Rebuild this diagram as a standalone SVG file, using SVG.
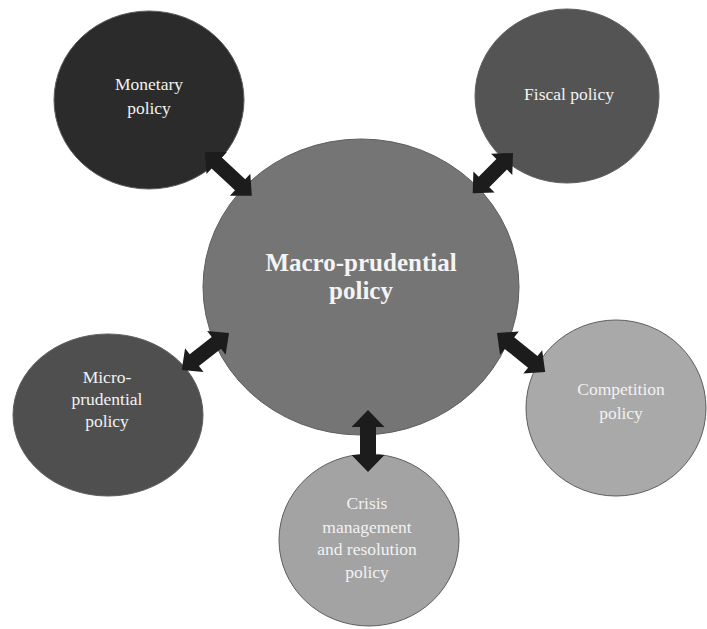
<svg xmlns="http://www.w3.org/2000/svg" width="707" height="629" viewBox="0 0 707 629">
<style>
.node{stroke:#5e5e5e;stroke-width:1}
.lbl{font-family:"Liberation Serif","Times New Roman",serif;font-size:17.5px;fill:#f2f2f2;text-anchor:middle}
.big{font-family:"Liberation Serif","Times New Roman",serif;font-size:25px;font-weight:bold;fill:#f4f4f4;text-anchor:middle}
.arr{fill:#1c1c1c}
</style>
<rect width="707" height="629" fill="#ffffff"/>
<g id="monetary">
<ellipse class="node" cx="149" cy="100" rx="95" ry="89" fill="#2b2b2b"/>
<text class="lbl" x="149" y="90">Monetary</text>
<text class="lbl" x="149" y="114">policy</text>
</g>
<g id="fiscal">
<ellipse class="node" cx="567" cy="96" rx="92" ry="87" fill="#545454"/>
<text class="lbl" x="569" y="100">Fiscal policy</text>
</g>
<g id="micro">
<ellipse class="node" cx="108" cy="415" rx="95" ry="81" fill="#4f4f4f"/>
<text class="lbl" x="107" y="383">Micro-</text>
<text class="lbl" x="107" y="405">prudential</text>
<text class="lbl" x="107" y="427">policy</text>
</g>
<g id="competition">
<ellipse class="node" cx="616" cy="408" rx="90" ry="88" fill="#a9a9a9"/>
<text class="lbl" x="621" y="395">Competition</text>
<text class="lbl" x="621" y="419">policy</text>
</g>
<g id="crisis">
<ellipse class="node" cx="369" cy="540" rx="90" ry="86" fill="#a3a3a3"/>
<text class="lbl" x="367" y="509">Crisis</text>
<text class="lbl" x="367" y="533">management</text>
<text class="lbl" x="367" y="555">and resolution</text>
<text class="lbl" x="367" y="578">policy</text>
</g>
<g id="macro">
<ellipse class="node" cx="361" cy="287" rx="158" ry="148" fill="#757575"/>
<text class="big" x="361" y="271">Macro-prudential</text>
<text class="big" x="361" y="299">policy</text>
</g>
<g id="connectors" class="arr">
<path transform="translate(205,152) rotate(43)" d="M0,0 L16,-15 L16,-7.5 L48,-7.5 L48,-15 L64,0 L48,15 L48,7.5 L16,7.5 L16,15 Z"/>
<path transform="translate(513,153) rotate(135)" d="M0,0 L16,-15 L16,-7.5 L41,-7.5 L41,-15 L57,0 L41,15 L41,7.5 L16,7.5 L16,15 Z"/>
<path transform="translate(229,333) rotate(142)" d="M0,0 L16,-15 L16,-7.5 L44,-7.5 L44,-15 L60,0 L44,15 L44,7.5 L16,7.5 L16,15 Z"/>
<path transform="translate(497,333) rotate(39)" d="M0,0 L16,-15 L16,-7.5 L46,-7.5 L46,-15 L62,0 L46,15 L46,7.5 L16,7.5 L16,15 Z"/>
<path transform="translate(368,410) rotate(90)" d="M0,0 L17,-16.5 L17,-8 L45,-8 L45,-16.5 L62,0 L45,16.5 L45,8 L17,8 L17,16.5 Z"/>
</g>
</svg>
